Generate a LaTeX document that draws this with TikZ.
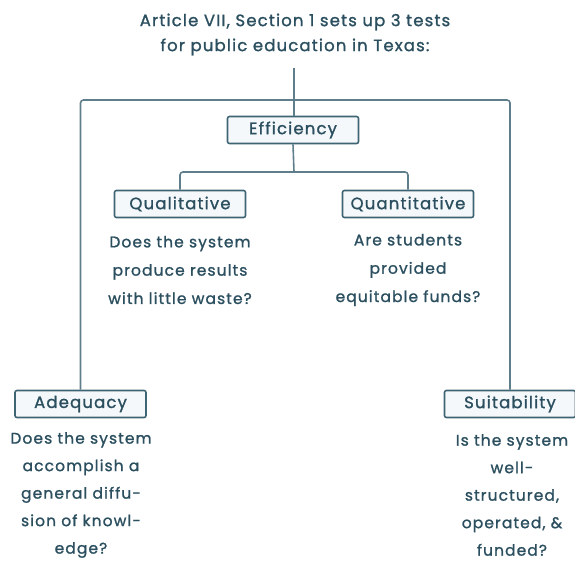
\documentclass[tikz,border=0pt]{standalone}
\usepackage{fontspec}
\setmainfont{Poppins}[LetterSpace=7,FakeBold=1.2]
\definecolor{txt}{HTML}{2B4F5F}
\definecolor{ln}{HTML}{5F7E8C}
\definecolor{bxfill}{HTML}{F4F8FA}
\definecolor{bxline}{HTML}{3F6474}
\begin{document}
\begin{tikzpicture}[x=1pt,y=-1pt,
  every node/.style={text=txt,font=\fontsize{15.5}{28.3}\selectfont},
  box/.style={draw=bxline,fill=bxfill,line width=1.6pt,rounded corners=2pt,minimum width=131pt,minimum height=27pt,inner sep=0pt,font=\fontsize{16.5}{20}\selectfont},
  qtext/.style={align=center,inner sep=0pt},
  longtext/.style={align=center,inner sep=0pt,font=\fontsize{15.5}{27.5}\selectfont},
  conn/.style={draw=ln,line width=1.6pt,rounded corners=3pt}]
\useasboundingbox (0,0) rectangle (575,560);
\node[qtext,font=\fontsize{16.5}{25}\selectfont] (title) at (295,34.5) {Article VII, Section 1 sets up 3 tests\\for public education in Texas:};
\node[box] (eff) at (293,130) {Efficiency};
\node[box] (qual) at (180,204) {Qualitative};
\node[box] (quan) at (408,204) {Quantitative};
\node[box] (ade) at (80.5,404) {Adequacy};
\node[box] (suit) at (510,404) {Suitability};
\node[qtext] (qualt) at (180,270) {Does the system\\produce results\\with little waste?};
\node[qtext] (quant) at (408,270) {Are students\\provided\\equitable funds?};
\node[longtext] (adet) at (81,495) {Does the system\\accomplish a\\general diffu-\\sion of knowl-\\edge?};
\node[longtext] (suitt) at (512,495) {Is the system\\well-\\structured,\\operated, \&\\funded?};
\coordinate (top) at (294,68);
\coordinate (hub) at (294,100);
\coordinate (sub) at (294,172);
\draw[conn] (top) -- (top |- eff.north);
\draw[conn] (ade.north) |- (hub) -| (suit.north);
\draw[conn] (eff.south) -- (sub);
\draw[conn] (qual.north) |- (sub) -| (quan.north);
\end{tikzpicture}
\end{document}
